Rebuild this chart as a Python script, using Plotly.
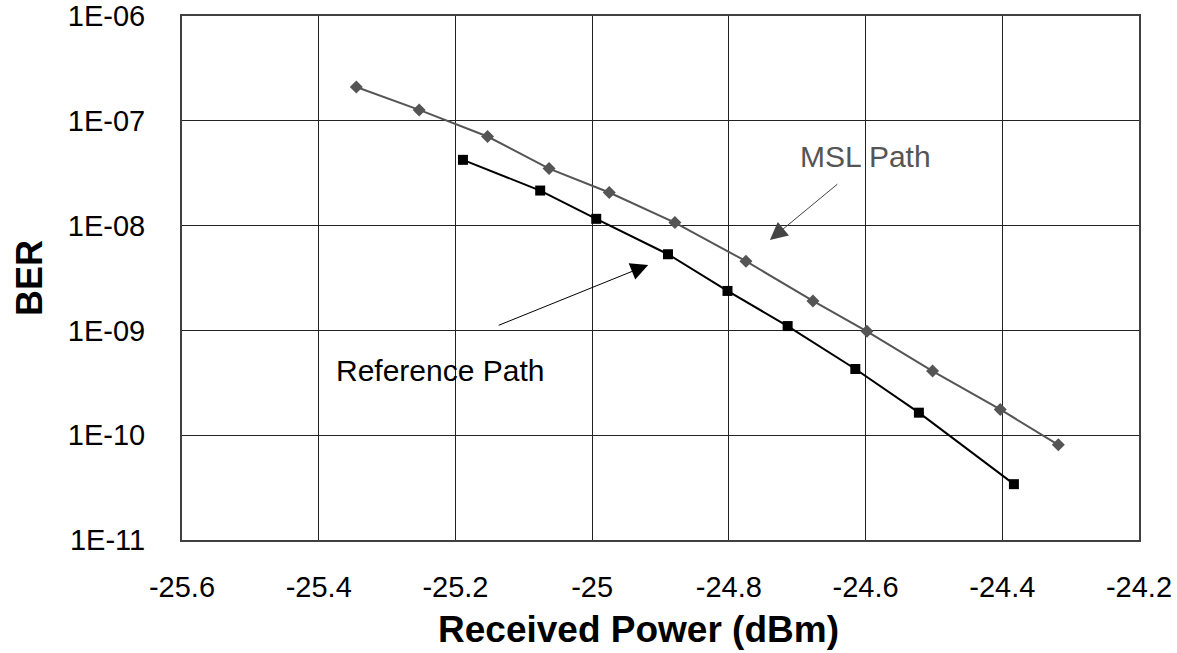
import plotly.graph_objects as go

# Received optical power (dBm) and measured bit error rate for each path
msl_power = [-25.345, -25.253, -25.153, -25.063, -24.975, -24.879,
             -24.775, -24.677, -24.598, -24.502, -24.403, -24.318]
msl_ber = [2.10e-7, 1.27e-7, 7.08e-8, 3.50e-8, 2.07e-8, 1.07e-8,
           4.57e-9, 1.91e-9, 9.8e-10, 4.09e-10, 1.76e-10, 8.1e-11]

ref_power = [-25.189, -25.076, -24.994, -24.889, -24.802,
             -24.714, -24.615, -24.522, -24.383]
ref_ber = [4.24e-8, 2.16e-8, 1.16e-8, 5.33e-9, 2.38e-9,
           1.10e-9, 4.28e-10, 1.64e-10, 3.41e-11]

x_ticks = [-25.6, -25.4, -25.2, -25.0, -24.8, -24.6, -24.4, -24.2]
x_tick_text = ["-25.6", "-25.4", "-25.2", "-25", "-24.8", "-24.6", "-24.4", "-24.2"]
y_ticks = [1e-11, 1e-10, 1e-9, 1e-8, 1e-7, 1e-6]
y_tick_text = ["1E-11", "1E-10", "1E-09", "1E-08", "1E-07", "1E-06"]

FONT = "Liberation Sans, Arial, sans-serif"
MSL_COLOR = "#555555"

fig = go.Figure()
fig.add_trace(go.Scatter(
    x=msl_power, y=msl_ber, mode="lines+markers", name="MSL Path",
    line=dict(color=MSL_COLOR, width=2),
    marker=dict(symbol="diamond", size=10, color=MSL_COLOR),
))
fig.add_trace(go.Scatter(
    x=ref_power, y=ref_ber, mode="lines+markers", name="Reference Path",
    line=dict(color="#000000", width=2),
    marker=dict(symbol="square", size=10, color="#000000"),
))

axis_common = dict(
    showgrid=True, gridcolor="#222222", gridwidth=1,
    showline=True, linecolor="#404040", linewidth=2, mirror=True,
    zeroline=False, ticks="", automargin=False,
    tickfont=dict(family=FONT, size=29, color="#000000"),
)

fig.update_xaxes(
    range=[-25.6, -24.2], tickvals=x_ticks, ticktext=x_tick_text,
    ticklabelstandoff=20,
    **axis_common,
)
fig.update_yaxes(
    type="log", range=[-11, -6], tickvals=y_ticks, ticktext=y_tick_text,
    ticklabelstandoff=29,
    title=dict(text="<b>BER</b>", standoff=14,
               font=dict(family=FONT, size=36, color="#000000")),
    **axis_common,
)

# X-axis title, placed as a paper-anchored label
fig.add_annotation(xref="paper", yref="paper", x=0.477, y=-0.170,
                   xanchor="center", yanchor="middle", showarrow=False,
                   text="<b>Received Power (dBm)</b>",
                   font=dict(family=FONT, size=37, color="#000000"))

# Callout labels with arrows pointing at each curve
fig.add_annotation(x=-24.740, y=-8.137, ax=69, ay=-57, text="",
                   showarrow=True, arrowhead=2, arrowsize=3.5, arrowwidth=1,
                   arrowcolor="#444444", standoff=0)
fig.add_annotation(x=-24.600, y=-7.344, text="MSL Path", showarrow=False,
                   font=dict(family=FONT, size=30, color=MSL_COLOR))
fig.add_annotation(x=-24.918, y=-8.375, ax=-151, ay=61, text="",
                   showarrow=True, arrowhead=2, arrowsize=3.5, arrowwidth=1,
                   arrowcolor="#000000", standoff=0)
fig.add_annotation(x=-25.223, y=-9.378, text="Reference Path", showarrow=False,
                   font=dict(family=FONT, size=30, color="#000000"))

fig.update_layout(
    width=1177, height=653,
    margin=dict(l=182, r=38, t=16, b=113),
    paper_bgcolor="#ffffff", plot_bgcolor="#ffffff",
    showlegend=False,
    font=dict(family=FONT, color="#000000"),
)

fig.write_html("out.html")
